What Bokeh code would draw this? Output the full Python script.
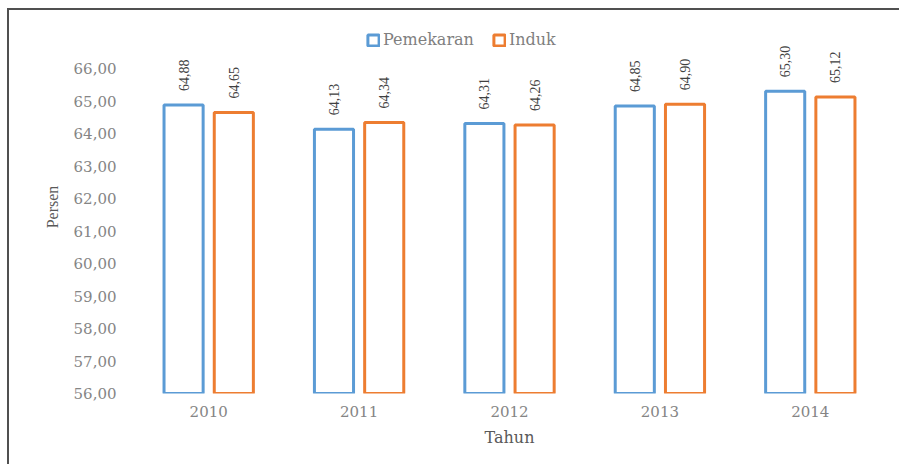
import math
from bokeh.plotting import figure
from bokeh.models import ColumnDataSource, FactorRange, FixedTicker
from bokeh.transform import dodge
from bokeh.core.properties import value
from bokeh.embed import file_html
from bokeh.resources import INLINE

years = ["2010", "2011", "2012", "2013", "2014"]
pemekaran = [64.88, 64.13, 64.31, 64.85, 65.30]
induk = [64.65, 64.34, 64.26, 64.90, 65.12]
pem_labels = ["64,88", "64,13", "64,31", "64,85", "65,30"]
ind_labels = ["64,65", "64,34", "64,26", "64,90", "65,12"]
y_ticks = [56, 57, 58, 59, 60, 61, 62, 63, 64, 65, 66]
y_tick_labels = ["56,00", "57,00", "58,00", "59,00", "60,00", "61,00",
                 "62,00", "63,00", "64,00", "65,00", "66,00"]
y_base = 56

BLUE = "#5B9BD5"
ORANGE = "#ED7D31"

src = ColumnDataSource(dict(year=years, pem=pemekaran, ind=induk,
                            pl=pem_labels, il=ind_labels,
                            base=[y_base] * len(years)))

p = figure(width=892, height=456, output_backend="svg", toolbar_location=None,
           x_range=FactorRange(*years), y_range=(56, 67.477),
           min_border_left=124, min_border_right=16, min_border_top=10,
           min_border_bottom=73, background_fill_color="white",
           border_fill_color="white", outline_line_color=None)
p.styles = {"border-top": "2px solid #505050", "border-left": "2px solid #505050",
            "margin-top": "8px", "margin-left": "7px"}

p.vbar(x=dodge("year", -0.167, range=p.x_range), top="pem", bottom="base",
       width=0.26, source=src, fill_color="white", line_color=BLUE,
       line_width=3, legend_label="Pemekaran")
p.vbar(x=dodge("year", 0.167, range=p.x_range), top="ind", bottom="base",
       width=0.26, source=src, fill_color="white", line_color=ORANGE,
       line_width=3, legend_label="Induk")

lbl_kw = dict(source=src, angle=math.pi / 2, text_align="left",
              text_baseline="middle", text_font=value("Liberation Serif"),
              text_font_size="14px", text_color="#404040", y_offset=-14)
p.text(x=dodge("year", -0.167, range=p.x_range), y="pem", text="pl", **lbl_kw)
p.text(x=dodge("year", 0.167, range=p.x_range), y="ind", text="il", **lbl_kw)

p.xgrid.visible = False
p.ygrid.visible = False

for ax in (p.xaxis[0], p.yaxis[0]):
    ax.axis_line_color = None
    ax.major_tick_line_color = None
    ax.minor_tick_line_color = None
    ax.major_tick_in = 0
    ax.major_tick_out = 0
    ax.major_label_text_font = "DejaVu Serif"
    ax.major_label_text_font_size = "15px"
    ax.major_label_text_color = "#858585"
    ax.axis_label_text_font = "DejaVu Serif"
    ax.axis_label_text_font_style = "normal"
    ax.axis_label_text_color = "#595959"

p.yaxis.ticker = FixedTicker(ticks=y_ticks)
p.yaxis.major_label_overrides = {t: l for t, l in zip(y_ticks, y_tick_labels)}
p.yaxis.major_label_standoff = 17
p.yaxis.axis_label = "Persen"
p.yaxis.axis_label_text_font = "Liberation Serif"
p.yaxis.axis_label_text_font_size = "16px"
p.yaxis.axis_label_standoff = 10

p.xaxis.major_label_standoff = 12
p.xaxis.axis_label = "Tahun"
p.xaxis.axis_label_text_font_size = "16px"
p.xaxis.axis_label_standoff = 8

lg = p.legend[0]
lg.orientation = "horizontal"
lg.location = (233, 344)
lg.padding = 0
lg.margin = 0
lg.spacing = 18
lg.label_standoff = 3
lg.glyph_width = 14
lg.glyph_height = 14
lg.border_line_color = None
lg.background_fill_alpha = 0
lg.label_text_font = "DejaVu Serif"
lg.label_text_font_size = "16px"
lg.label_text_color = "#7F7F7F"

open("out.html", "w").write(file_html(p, INLINE))
